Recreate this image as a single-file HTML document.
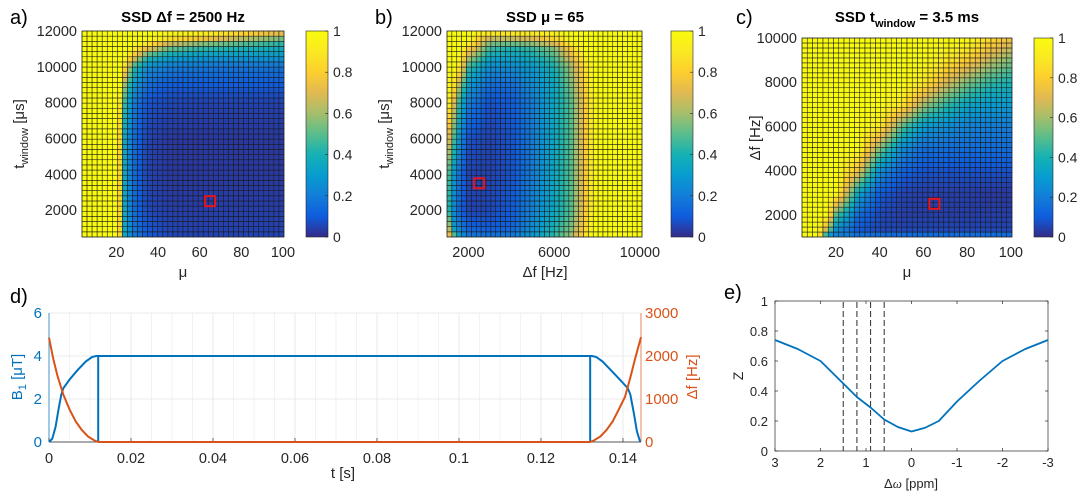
<!DOCTYPE html>
<html><head><meta charset="utf-8">
<style>
html,body{margin:0;padding:0;background:#fff;}
svg{display:block;font-family:"Liberation Sans",Arial,sans-serif;}
</style></head>
<body>
<svg id="fig" width="1079" height="495" viewBox="0 0 1079 495" xmlns="http://www.w3.org/2000/svg"></svg>
<script>
// ---------- Panel a data (t_window rows ascending, mu cols) ----------
const aMu = [5,20,22,24,28,35,45,60,80,100];
const aT = [500,2000,4000,6000,8000,9000,10000,10600,11200,11600,12000];
const aVals = [
 [1,1,0.8,0.35,0.2,0.1,0.06,0.05,0.05,0.05],
 [1,1,0.8,0.35,0.15,0.06,0.04,0.04,0.04,0.04],
 [1,1,0.8,0.35,0.15,0.05,0.03,0.03,0.03,0.03],
 [1,1,0.8,0.35,0.15,0.05,0.03,0.03,0.03,0.03],
 [1,1,0.85,0.45,0.2,0.08,0.06,0.05,0.05,0.05],
 [1,1,1,0.6,0.3,0.15,0.1,0.1,0.1,0.1],
 [1,1,1,0.85,0.45,0.25,0.2,0.18,0.17,0.17],
 [1,1,1,1,0.8,0.45,0.35,0.3,0.3,0.3],
 [1,1,1,1,1,0.85,0.6,0.5,0.45,0.4],
 [1,1,1,1,1,1,0.9,0.8,0.65,0.55],
 [1,1,1,1,1,1,1,1,0.9,0.8]
];
// ---------- Panel b data ----------
const bDf = [1000,1300,1600,2000,3000,4000,5000,6000,6800,7400,7800,8200,10100];
const bT = [500,1000,2000,4000,6000,8000,9000,10000,11000,11500,12000];
const bVals = [
 [0.85,0.6,0.3,0.2,0.18,0.2,0.3,0.45,0.6,0.85,1,1,1],
 [0.8,0.3,0.2,0.12,0.1,0.12,0.25,0.4,0.55,0.8,1,1,1],
 [0.5,0.25,0.12,0.05,0.06,0.1,0.22,0.35,0.5,0.75,0.95,1,1],
 [0.55,0.3,0.15,0.05,0.05,0.08,0.2,0.35,0.5,0.75,0.95,1,1],
 [0.8,0.5,0.25,0.08,0.05,0.08,0.2,0.35,0.5,0.75,0.95,1,1],
 [1,0.75,0.4,0.2,0.08,0.1,0.2,0.35,0.5,0.75,0.95,1,1],
 [1,0.9,0.6,0.3,0.15,0.15,0.25,0.35,0.55,0.8,1,1,1],
 [1,1,0.9,0.45,0.25,0.25,0.3,0.4,0.6,0.85,1,1,1],
 [1,1,1,0.8,0.45,0.4,0.45,0.55,0.8,1,1,1,1],
 [1,1,1,1,0.6,0.6,0.65,0.8,1,1,1,1,1],
 [1,1,1,1,1,1,1,1,1,1,1,1,1]
];
// ---------- Panel c data ----------
const cMu = [5,12,16,20,30,40,50,60,70,80,90,100];
const cDf = [1000,1300,2000,3000,4000,5000,6000,7000,8000,9000,10000];
const cVals = [
 [1,1,0.2,0.2,0.2,0.2,0.2,0.2,0.2,0.2,0.2,0.2],
 [1,1,0.6,0.25,0.1,0.06,0.06,0.06,0.06,0.06,0.06,0.06],
 [1,1,1,0.5,0.15,0.06,0.04,0.04,0.04,0.04,0.04,0.04],
 [1,1,1,1,0.35,0.1,0.05,0.04,0.04,0.04,0.03,0.03],
 [1,1,1,1,0.75,0.25,0.12,0.08,0.08,0.08,0.08,0.08],
 [1,1,1,1,1,0.55,0.25,0.15,0.15,0.15,0.15,0.15],
 [1,1,1,1,1,0.9,0.5,0.3,0.25,0.22,0.2,0.2],
 [1,1,1,1,1,1,0.9,0.6,0.45,0.35,0.3,0.3],
 [1,1,1,1,1,1,1,0.9,0.7,0.55,0.45,0.4],
 [1,1,1,1,1,1,1,1,0.9,0.8,0.65,0.55],
 [1,1,1,1,1,1,1,1,1,1,0.85,0.75]
];
const aXTicks = [20,40,60,80,100];
const abYTicks = [2000,4000,6000,8000,10000,12000];
const bXTicks = [2000,6000,10000];
const cYTicks = [2000,4000,6000,8000,10000];
const cbTicks = [0,0.2,0.4,0.6,0.8,1];
// ---------- Panel d data ----------
const dB1T = [0,0.0008,0.0016,0.0024,0.003,0.0035,0.005,0.007,0.009,0.0105,0.0115,0.012,0.012,0.012,0.132,0.132,0.132,0.1325,0.1335,0.135,0.137,0.139,0.1412,0.1418,0.1426,0.1434,0.1442];
const dB1V = [0,0.15,0.7,1.6,2.2,2.5,2.9,3.35,3.75,3.95,4,4,0,4,4,0,4,4,3.95,3.75,3.35,2.95,2.5,2.2,1.4,0.5,0];
const dDfT = [0,0.001,0.002,0.0035,0.005,0.0065,0.008,0.0095,0.011,0.012,0.132,0.133,0.1345,0.136,0.1375,0.139,0.1405,0.1418,0.143,0.1444];
const dDfV = [2425,1950,1560,1100,760,480,280,130,40,0,0,40,130,280,480,760,1050,1500,1950,2440];
const dXTicks = [0,0.02,0.04,0.06,0.08,0.1,0.12,0.14];
const dYTicks = [0,2,4,6];
const dY2Ticks = [0,1000,2000,3000];
// ---------- Panel e data ----------
const eW = [3,2.5,2,1.5,1.2,0.9,0.6,0.3,0,-0.3,-0.6,-1,-1.5,-2,-2.5,-3];
const eZ = [0.74,0.68,0.6,0.45,0.36,0.29,0.21,0.16,0.13,0.155,0.2,0.33,0.47,0.6,0.68,0.74];
const eDash = [1.5,1.2,0.9,0.6];
const eXTicks = [3,2,1,0,-1,-2,-3];
const eYTicks = [0,0.2,0.4,0.6,0.8,1];

const NS="http://www.w3.org/2000/svg";
const svg=document.getElementById('fig');
function mk(tag,attrs,parent){const e=document.createElementNS(NS,tag);for(const k in attrs)e.setAttribute(k,attrs[k]);(parent||svg).appendChild(e);return e;}
function txt(s,x,y,size,anchor,parent,extra){const t=mk('text',Object.assign({x:x,y:y,'font-size':size,'text-anchor':anchor||'middle',fill:'#262626'},extra||{}),parent);t.textContent=s;return t;}
function lin(d0,d1,r0,r1){return v=>r0+(v-d0)*(r1-r0)/(d1-d0);}
const PAR=[[53,42,135],[15,92,221],[18,125,216],[7,156,207],[21,177,180],[89,189,140],[165,190,107],[225,185,82],[252,206,46],[250,233,34],[249,251,14]];
function parula(v){v=Math.max(0,Math.min(1,v))*10;const i=Math.min(9,Math.floor(v)),f=v-i;const a=PAR[i],b=PAR[i+1];return 'rgb('+[0,1,2].map(k=>Math.round(a[k]+(b[k]-a[k])*f)).join(',')+')';}
function seg(arr,v){let i=0;while(i<arr.length-2&&v>arr[i+1])i++;let f=(v-arr[i])/(arr[i+1]-arr[i]);return [i,Math.max(0,Math.min(1,f))];}
function interp(xs,ys,M,x,y){const [i,fx]=seg(xs,x),[j,fy]=seg(ys,y);const v00=M[j][i],v01=M[j][i+1],v10=M[j+1][i],v11=M[j+1][i+1];return (v00*(1-fx)+v01*fx)*(1-fy)+(v10*(1-fx)+v11*fx)*fy;}

function heatPanel(o){
 const g=mk('g',{});
 
 
 const sx=lin(o.xd[0],o.xd[1],o.L,o.R), sy=lin(o.yd[0],o.yd[1],o.B,o.T);
 const nx=40, ny=40;
 const cw=(o.R-o.L)/nx, ch=(o.B-o.T)/ny;
 const cells=mk('g',{},g);
 
 
 for(let j=0;j<ny;j++)for(let i=0;i<nx;i++){
  const xv=o.xd[0]+(i+0.5)*(o.xd[1]-o.xd[0])/nx, yv=o.yd[0]+(j+0.5)*(o.yd[1]-o.yd[0])/ny;
  const v=interp(o.xs,o.ys,o.M,xv,yv);
  const r=mk('rect',{x:o.L+i*cw,y:o.B-(j+1)*ch,width:cw,height:ch,fill:parula(v),stroke:'#1a1a1a','stroke-width':0.55},cells);
  
  
 }
 const box=mk('rect',{x:o.L,y:o.T,width:o.R-o.L,height:o.B-o.T,fill:'none',stroke:'#262626','stroke-width':0.6},g);
 
 
 o.xt.forEach(v=>{const t=txt(String(v),sx(v),o.B+20,14.5,'middle',g);});
 o.yt.forEach(v=>{const t=txt(String(v),o.L-5,sy(v)+5,14.5,'end',g);});
 const mx=sx(o.mark[0]),my=sy(o.mark[1]);
 const m=mk('rect',{x:mx-5,y:my-5,width:10,height:10,fill:'none',stroke:'#e8141c','stroke-width':2},g);
 
 
 const gid='cbg'+o.L;
 const defs=mk('defs',{},g);
 const lg=mk('linearGradient',{id:gid,x1:0,y1:1,x2:0,y2:0},defs);
 for(let k=0;k<=20;k++)mk('stop',{offset:k/20,'stop-color':parula(k/20)},lg);
 const cb=mk('rect',{x:o.cbx,y:o.T,width:o.cbw,height:o.B-o.T,fill:'url(#'+gid+')',stroke:'#262626','stroke-width':0.6},g);
 
 
 const cs=lin(0,1,o.B,o.T);
 cbTicks.forEach(v=>{mk('line',{x1:o.cbx+o.cbw-3,x2:o.cbx+o.cbw,y1:cs(v),y2:cs(v),stroke:'#262626','stroke-width':0.6},g);const t=txt(String(v),o.cbx+o.cbw+5,cs(v)+5,14,'start',g);});
 return g;
}

let t;
const ga=heatPanel({name:'panel-a',L:82,R:284,T:31,B:237,xd:[3.5,100.5],yd:[500,12000],xs:aMu,ys:aT,M:aVals,xt:aXTicks,yt:abYTicks,mark:[65,2500],cbx:306,cbw:22});
t=txt('a)',10,24,20,'start',ga,{fill:'#000'});
t=mk('text',{x:183,y:22,'font-size':15,'font-weight':'bold','text-anchor':'middle',fill:'#000'},ga);t.textContent='SSD Δf = 2500 Hz';
t=txt('μ',183,277,15,'middle',ga);
t=mk('text',{x:0,y:0,'font-size':15,'text-anchor':'middle',fill:'#262626',transform:'translate(24,134) rotate(-90)'},ga);t.innerHTML='t<tspan font-size="11" dy="4">window</tspan><tspan dy="-4"> [μs]</tspan>';

const gb=heatPanel({name:'panel-b',L:447,R:642,T:31,B:237,xd:[1000,10100],yd:[500,12000],xs:bDf,ys:bT,M:bVals,xt:bXTicks,yt:abYTicks,mark:[2500,3500],cbx:671,cbw:22});
t=txt('b)',375,24,20,'start',gb,{fill:'#000'});
t=mk('text',{x:545,y:22,'font-size':15,'font-weight':'bold','text-anchor':'middle',fill:'#000'},gb);t.textContent='SSD μ = 65';
t=txt('Δf [Hz]',545,277,15,'middle',gb);
t=mk('text',{x:0,y:0,'font-size':15,'text-anchor':'middle',fill:'#262626',transform:'translate(389,134) rotate(-90)'},gb);t.innerHTML='t<tspan font-size="11" dy="4">window</tspan><tspan dy="-4"> [μs]</tspan>';

const gc=heatPanel({name:'panel-c',L:802,R:1012,T:38,B:237,xd:[4.5,100.5],yd:[1000,10000],xs:cMu,ys:cDf,M:cVals,xt:aXTicks,yt:cYTicks,mark:[65,2500],cbx:1034,cbw:19});
t=txt('c)',736,24,20,'start',gc,{fill:'#000'});
t=mk('text',{x:907,y:22,'font-size':15,'font-weight':'bold','text-anchor':'middle',fill:'#000'},gc);t.innerHTML='SSD t<tspan font-size="11" dy="5">window</tspan><tspan dy="-5"> = 3.5 ms</tspan>';
t=txt('μ',907,277,15,'middle',gc);
t=mk('text',{x:0,y:0,'font-size':15,'text-anchor':'middle',fill:'#262626',transform:'translate(760,138) rotate(-90)'},gc);t.textContent='Δf [Hz]';

// Panel d
(function(){
 const g=mk('g',{});
 
 
 const L=49,R=641,T=313,B=442;
 const sx=lin(0,0.1444,L,R), sy=lin(0,6,B,T), sy2=lin(0,3000,B,T);
 for(let k=0;k<=28;k++){const v=k*0.005;const x=sx(v);const gl=mk('line',{x1:x,x2:x,y1:T,y2:B,stroke:k%4==0?'#e4e4e4':'#f0f0f0','stroke-width':0.8},g);}
 dYTicks.forEach(v=>{const y=sy(v);mk('line',{x1:L,x2:R,y1:y,y2:y,stroke:'#e4e4e4','stroke-width':0.8},g);});
 mk('line',{x1:L,x2:R,y1:B,y2:B,stroke:'#262626','stroke-width':0.7},g);
 mk('line',{x1:L,x2:L,y1:T,y2:B,stroke:'#0072BD','stroke-width':0.7},g);
 mk('line',{x1:R,x2:R,y1:T,y2:B,stroke:'#D95319','stroke-width':0.7},g);
 dXTicks.forEach(v=>{mk('line',{x1:sx(v),x2:sx(v),y1:B,y2:B-4,stroke:'#262626','stroke-width':0.7},g);const e=txt(String(v),sx(v),B+21,14.5,'middle',g);});
 dYTicks.forEach(v=>{const e=txt(String(v),L-7,sy(v)+5,15,'end',g,{fill:'#0072BD'});});
 dY2Ticks.forEach(v=>{const e=txt(String(v),R+4,sy2(v)+5,15,'start',g,{fill:'#D95319'});});
 const p1=mk('polyline',{points:dB1T.map((v,i)=>sx(v)+','+sy(dB1V[i])).join(' '),fill:'none',stroke:'#0072BD','stroke-width':2},g);
 
 
 const p2=mk('polyline',{points:dDfT.map((v,i)=>sx(v)+','+sy2(dDfV[i])).join(' '),fill:'none',stroke:'#D95319','stroke-width':2},g);
 
 
 let e=txt('d)',10,303,20,'start',g,{fill:'#000'});
 e=txt('t [s]',343,478,15,'middle',g);
 e=mk('text',{x:0,y:0,'font-size':15,'text-anchor':'middle',fill:'#0072BD',transform:'translate(22,377) rotate(-90)'},g);e.innerHTML='B<tspan font-size="11" dy="4">1</tspan><tspan dy="-4"> [μT]</tspan>';
 e=mk('text',{x:0,y:0,'font-size':15,'text-anchor':'middle',fill:'#D95319',transform:'translate(697,377) rotate(-90)'},g);e.textContent='Δf [Hz]';
})();

// Panel e
(function(){
 const g=mk('g',{});
 
 
 const L=775,R=1048,T=301,B=451;
 const sx=lin(3,-3,L,R), sy=lin(0,1,B,T);
 const box=mk('rect',{x:L,y:T,width:R-L,height:B-T,fill:'none',stroke:'#262626','stroke-width':0.7},g);
 
 
 eXTicks.forEach(v=>{mk('line',{x1:sx(v),x2:sx(v),y1:B,y2:B-3,stroke:'#262626','stroke-width':0.7},g);mk('line',{x1:sx(v),x2:sx(v),y1:T,y2:T+3,stroke:'#262626','stroke-width':0.7},g);const e=txt(String(v),sx(v),B+16,13,'middle',g);});
 eYTicks.forEach(v=>{mk('line',{x1:L,x2:L+3,y1:sy(v),y2:sy(v),stroke:'#262626','stroke-width':0.7},g);mk('line',{x1:R,x2:R-3,y1:sy(v),y2:sy(v),stroke:'#262626','stroke-width':0.7},g);const e=txt(String(v),L-7,sy(v)+5,13,'end',g);});
 eDash.forEach(v=>{const d=mk('line',{x1:sx(v),x2:sx(v),y1:T+1,y2:B,stroke:'#404040','stroke-width':1.1,'stroke-dasharray':'6,3'},g);});
 const p=mk('polyline',{points:eW.map((v,i)=>sx(v)+','+sy(eZ[i])).join(' '),fill:'none',stroke:'#0072BD','stroke-width':1.8,'stroke-linejoin':'round'},g);
 
 
 let e=txt('e)',724,299,20,'start',g,{fill:'#000'});
 e=mk('text',{x:911,y:488,'font-size':13,'text-anchor':'middle',fill:'#262626'},g);e.innerHTML='Δ<tspan font-style="italic" font-family="Liberation Serif">ω</tspan> [ppm]';
 e=mk('text',{x:0,y:0,'font-size':14,'text-anchor':'middle',fill:'#262626',transform:'translate(743,376) rotate(-90)'},g);e.textContent='Z';
})();
</script>
</body></html>
